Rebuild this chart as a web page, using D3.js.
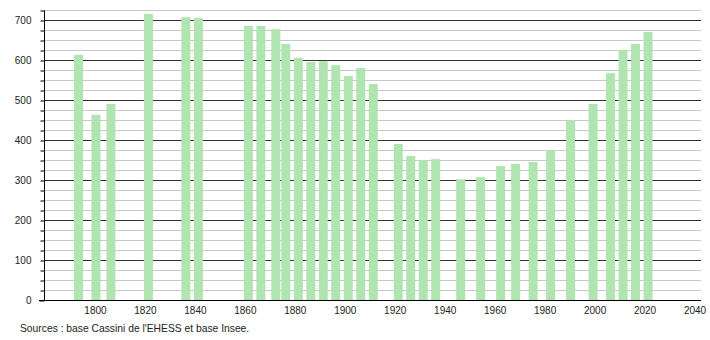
<!DOCTYPE html>
<html>
<head>
<meta charset="utf-8">
<script src="https://cdn.jsdelivr.net/npm/d3@7"></script>
<style>
  body { margin: 0; background: #fff; }
  text { font-family: "Liberation Sans", Arial, sans-serif; }
</style>
</head>
<body>
<div id="chart"></div>
<script>
// census years and population
let years = [1793, 1800, 1806, 1821, 1836, 1841, 1861, 1866, 1872, 1876, 1881, 1886, 1891, 1896,
  1901, 1906, 1911, 1921, 1926, 1931, 1936, 1946, 1954, 1962, 1968, 1975, 1982, 1990, 1999,
  2006, 2011, 2016, 2021];
let population = [613, 463, 490, 715, 707, 705, 685, 685, 677, 640, 605, 595, 597, 587,
  560, 580, 540, 390, 360, 350, 352, 302, 307, 335, 340, 345, 375, 450, 490,
  567, 625, 640, 670];
let xTicks = [1800, 1820, 1840, 1860, 1880, 1900, 1920, 1940, 1960, 1980, 2000, 2020, 2040];
let yTicks = [0, 100, 200, 300, 400, 500, 600, 700];
let sourceText = "Sources : base Cassini de l'EHESS et base Insee.";

let width = 710, height = 340;
let plotLeft = 44, plotRight = 701, plotTop = 10, plotBottom = 300;

let drawing = d3.select("#chart").append("svg")
  .attr("width", width)
  .attr("height", height);

let x = d3.scaleLinear().domain([1780, 2043]).range([45, 702]);
let y = d3.scaleLinear().domain([0, 725]).range([plotBottom, plotTop]);

// grid lines, light every 25, dark every 100
let gridVals = d3.range(25, 726, 25);
drawing.append("g").selectAll("line")
  .data(gridVals)
  .join("line")
  .attr("x1", plotLeft)
  .attr("x2", plotRight)
  .attr("y1", d => Math.round(y(d)) + 0.5)
  .attr("y2", d => Math.round(y(d)) + 0.5)
  .attr("stroke", d => yTicks.includes(d) ? "#333" : "#c8c8c8")
  .attr("stroke-width", 1);

// bars
let barW = 9;
drawing.append("g").selectAll("rect")
  .data(years)
  .join("rect")
  .attr("x", (d, i) => x(d) - 3.5)
  .attr("y", (d, i) => y(population[i]))
  .attr("width", barW)
  .attr("height", (d, i) => y(0) - y(population[i]))
  .attr("fill", "#b0e4b0");

// y axis
let yAxis = d3.axisLeft(y)
  .tickValues(d3.range(0, 726, 25))
  .tickSize(4)
  .tickFormat(d => yTicks.includes(d) ? d : "");
let gy = drawing.append("g")
  .attr("transform", `translate(${plotLeft + 0.5},0.5)`)
  .call(yAxis);
gy.select(".domain").attr("stroke", "#000").attr("d", `M0,${plotTop}V${plotBottom}`);
gy.selectAll(".tick line").attr("stroke", "#000");
gy.selectAll(".tick text")
  .attr("x", -13)
  .attr("fill", "#222")
  .attr("font-size", 10);
gy.selectAll(".tick").filter(d => d == 0).select("line").attr("x2", -5);

// x axis
let xAxis = d3.axisBottom(x)
  .tickValues(xTicks)
  .tickSize(0)
  .tickFormat(d3.format("d"));
let gx = drawing.append("g")
  .attr("transform", `translate(0,${plotBottom + 0.5})`)
  .call(xAxis);
gx.select(".domain").attr("stroke", "#000").attr("d", `M39,0H${plotRight}`);
gx.selectAll(".tick text")
  .attr("y", 6)
  .attr("fill", "#222")
  .attr("font-size", 10);

drawing.append("text")
  .attr("x", 20)
  .attr("y", 332)
  .attr("font-size", 10.3)
  .attr("fill", "#222")
  .text(sourceText);
</script>
</body>
</html>
